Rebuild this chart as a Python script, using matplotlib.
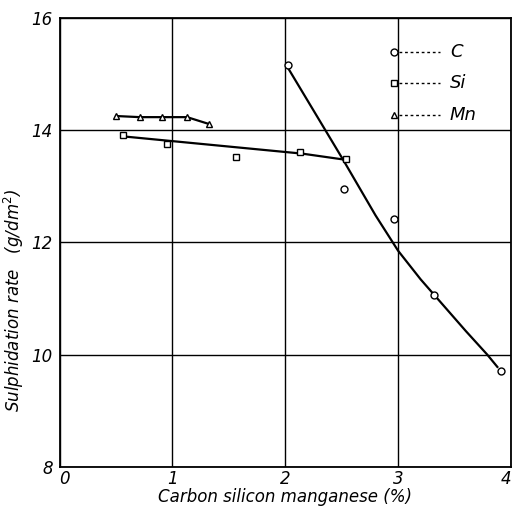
import matplotlib
matplotlib.use("Agg")
import matplotlib.pyplot as plt

# Data
c_x = [2.02, 2.52, 2.96, 3.32, 3.91]
c_y = [15.15, 12.95, 12.41, 11.07, 9.71]
c_fit_x = [2.02, 2.51, 2.80, 3.00, 3.20, 3.40, 3.60, 3.79, 3.88]
c_fit_y = [15.12, 13.48, 12.48, 11.85, 11.34, 10.88, 10.42, 10.00, 9.78]

si_x = [0.56, 0.95, 1.56, 2.13, 2.54]
si_y = [13.91, 13.75, 13.52, 13.61, 13.48]
si_fit_x = [0.60, 2.15, 2.50]
si_fit_y = [13.88, 13.58, 13.48]

mn_x = [0.50, 0.71, 0.91, 1.13, 1.32]
mn_y = [14.25, 14.23, 14.23, 14.23, 14.11]

x_ticks = [0, 1, 2, 3, 4]
y_ticks = [8, 10, 12, 14, 16]
legend_labels = ["C", "Si", "Mn"]
legend_markers = ["o", "s", "^"]

fig = plt.figure(figsize=(5.14, 5.08), dpi=100)
ax = fig.add_axes([0.116, 0.081, 0.878, 0.884])

ax.set_xlim(0, 4)
ax.set_ylim(8, 16)
ax.set_xticks(x_ticks)
ax.set_yticks(y_ticks)
ax.set_xticklabels([str(t) for t in x_ticks], fontstyle="italic", fontsize=12)
ax.set_yticklabels([str(t) for t in y_ticks], fontstyle="italic", fontsize=12)
ax.get_xticklabels()[-1].set_ha("right")
ax.get_xticklabels()[0].set_ha("left")
ax.tick_params(axis="x", length=0, pad=2)
ax.tick_params(axis="y", length=0, pad=5)
ax.grid(True, color="black", linewidth=1.0)
for s in ax.spines.values():
    s.set_linewidth(1.3)
    s.set_color("black")

ax.plot(c_fit_x, c_fit_y, color="black", lw=1.6)
ax.plot(si_fit_x, si_fit_y, color="black", lw=1.6)
ax.plot(mn_x, mn_y, color="black", lw=1.6)

mk = dict(ls="none", ms=5, mfc="white", mec="black", mew=1.0)
ax.plot(c_x, c_y, marker="o", **mk)
ax.plot(si_x, si_y, marker="s", **mk)
ax.plot(mn_x, mn_y, marker="^", **mk)

# legend drawn in axes coordinates: marker, dashed line, italic label
leg_y = [0.924, 0.855, 0.784]
for lab, m, yy in zip(legend_labels, legend_markers, leg_y):
    ax.plot([0.752, 0.842], [yy, yy], transform=ax.transAxes, color="black",
            lw=1.0, ls=(0, (2, 2)))
    ax.plot([0.742], [yy], transform=ax.transAxes, marker=m, ms=5,
            mfc="white", mec="black", mew=1.0, ls="none")
    ax.text(0.865, yy, lab, transform=ax.transAxes, fontstyle="italic",
            fontsize=13, va="center", ha="left")

ax.set_xlabel("Carbon silicon manganese (%)", fontstyle="italic", fontsize=12, labelpad=0)
ax.set_ylabel("Sulphidation rate   (g/dm$^2$)", fontstyle="italic", fontsize=12)
ax.yaxis.set_label_coords(-0.075, 0.37)

fig.savefig("out.png", dpi=100)
